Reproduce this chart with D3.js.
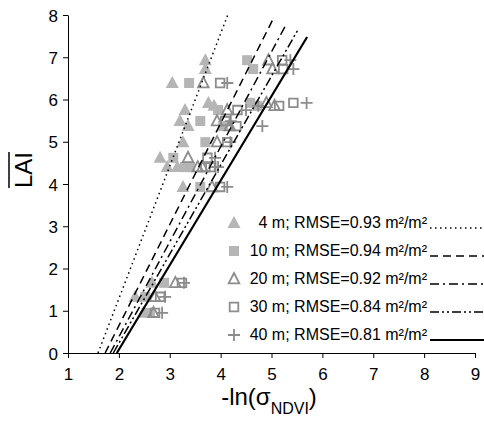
<!DOCTYPE html>
<html>
<head>
<meta charset="utf-8">
<script src="https://cdn.jsdelivr.net/npm/d3@7/dist/d3.min.js"></script>
<style>
    body { margin: 0; background: #fff; }
    #chart { width: 484px; height: 422px; }
    text { font-family: "Liberation Sans", Arial, sans-serif; }
</style>
</head>
<body>
<div id="chart"></div>
<script>

// mean LAI of each plot (y values)
const laiValues = [6.93, 6.72, 6.39, 5.92, 5.85, 5.75, 5.49, 5.37, 4.99, 4.62, 4.40, 4.40, 3.93, 1.66, 1.33, 0.95];

// -ln(sigma NDVI) per plot, one array per window size
const ndvi4m  = [3.70, 3.70, 3.05, 3.76, 3.87, 3.30, 3.20, 3.36, 3.26, 2.81, 2.95, 3.15, 3.26, 2.65, 2.32, 2.48];
const ndvi10m = [4.52, 4.64, 3.38, 4.58, 4.72, 3.95, 3.60, 4.05, 3.70, 3.07, 3.40, 3.30, 3.60, 2.89, 2.52, 2.61];
const ndvi20m = [4.94, 5.02, 3.66, 4.90, 5.06, 4.13, 3.93, 4.18, 3.93, 3.36, 3.64, 3.55, 3.83, 3.11, 2.71, 2.68];
const ndvi30m = [5.21, 5.23, 3.99, 5.43, 5.15, 4.33, 4.09, 4.31, 4.13, 3.74, 3.80, 3.70, 3.99, 3.24, 2.81, 2.71];
const ndvi40m = [5.37, 5.43, 4.13, 5.69, 4.74, 4.50, 4.20, 4.82, 4.19, 3.89, 3.95, 3.90, 4.13, 3.28, 2.91, 2.85];

const windowSizes = ["4 m", "10 m", "20 m", "30 m", "40 m"];
const rmseValues = [0.93, 0.94, 0.92, 0.84, 0.81];

// fitted lines: start on LAI=0, end at (fitX1, fitY1)
const fitX0 = [1.59, 1.73, 1.83, 1.89, 1.96];
const fitX1 = [4.14, 5.05, 5.28, 5.52, 5.70];
const fitY1 = [8.00, 7.95, 7.76, 7.65, 7.48];

const xTicks = [1, 2, 3, 4, 5, 6, 7, 8, 9];
const yTicks = [0, 1, 2, 3, 4, 5, 6, 7, 8];


class LaiScatter {

    constructor(parentElement) {
        this.parentElement = parentElement;
        this.displayData = [];

        this.initVis();
    }

    initVis() {
        let vis = this;

        vis.width = 484;
        vis.height = 422;

        vis.svg = d3.select("#" + vis.parentElement).append("svg")
            .attr("width", vis.width)
            .attr("height", vis.height);

        vis.x = d3.scaleLinear().domain([1, 9]).range([68, 475]);
        vis.y = d3.scaleLinear().domain([0, 8]).range([353, 15]);

        // marker + line style per window size
        vis.styles = [
            {path: "M0,-7L6.5,5L-6.5,5Z", fill: "#b5b5b5", stroke: "none", dash: "1.5,3.5", lw: 1.5},
            {path: "M-5,-5h10v10h-10Z", fill: "#b5b5b5", stroke: "none", dash: "8,5", lw: 1.5},
            {path: "M0,-6L5.3,4.3L-5.3,4.3Z", fill: "none", stroke: "#8c8c8c", dash: "9,4,2,4", lw: 1.5},
            {path: "M-4.3,-4.3h8.6v8.6h-8.6Z", fill: "none", stroke: "#8c8c8c", dash: "9,3,2,3,2,3", lw: 1.5},
            {path: "M-6,0H6M0,-6V6", fill: "none", stroke: "#8c8c8c", dash: null, lw: 2.2}
        ];

        vis.wrangleData();
    }

    wrangleData() {
        let vis = this;

        let series = [ndvi4m, ndvi10m, ndvi20m, ndvi30m, ndvi40m];

        vis.displayData = windowSizes.map(function (name, i) {
            return {
                name: name,
                rmse: rmseValues[i],
                style: vis.styles[i],
                points: laiValues.map((lai, j) => ({x: series[i][j], y: lai})),
                fit: [{x: fitX0[i], y: 0}, {x: fitX1[i], y: fitY1[i]}]
            };
        });

        vis.updateVis();
    }

    updateVis() {
        let vis = this;

        // axes
        let xAxis = vis.svg.append("g")
            .attr("transform", "translate(0," + vis.y(0) + ")")
            .call(d3.axisBottom(vis.x).tickValues(xTicks).tickFormat(d3.format("d"))
                .tickSizeInner(5).tickSizeOuter(0).tickPadding(10));

        let yAxis = vis.svg.append("g")
            .attr("transform", "translate(" + vis.x(1) + ",0)")
            .call(d3.axisLeft(vis.y).tickValues(yTicks).tickFormat(d3.format("d"))
                .tickSizeInner(5).tickSizeOuter(0).tickPadding(5));

        [xAxis, yAxis].forEach(function (g) {
            g.attr("font-family", null).attr("font-size", null);
            g.selectAll("text").style("font-size", "17px").attr("fill", "#000");
            g.selectAll("line, path").attr("stroke", "#000");
        });
        yAxis.selectAll("text").attr("dy", "0.36em");

        // points
        vis.displayData.forEach(function (s) {
            vis.svg.append("g")
                .selectAll("path")
                .data(s.points)
                .enter()
                .append("path")
                .attr("transform", d => "translate(" + vis.x(d.x) + "," + vis.y(d.y) + ")")
                .attr("d", s.style.path)
                .attr("fill", s.style.fill)
                .attr("stroke", s.style.stroke)
                .attr("stroke-width", 1.8);
        });

        // fitted lines
        let line = d3.line().x(d => vis.x(d.x)).y(d => vis.y(d.y));

        vis.svg.selectAll(".fitLine")
            .data(vis.displayData)
            .enter()
            .append("path")
            .attr("class", "fitLine")
            .attr("d", d => line(d.fit))
            .attr("fill", "none")
            .attr("stroke", "#000")
            .attr("stroke-width", d => d.style.lw)
            .attr("stroke-dasharray", d => d.style.dash);

        // legend
        let legend = vis.svg.selectAll(".legendRow")
            .data(vis.displayData)
            .enter()
            .append("g")
            .attr("class", "legendRow")
            .attr("transform", (d, i) => "translate(0," + (228 + i * 28) + ")");

        legend.append("rect")
            .attr("x", 222).attr("y", -14)
            .attr("width", 262).attr("height", 19)
            .attr("fill", "#fff");

        legend.append("path")
            .attr("transform", "translate(234,-5)")
            .attr("d", d => d.style.path)
            .attr("fill", d => d.style.fill)
            .attr("stroke", d => d.style.stroke)
            .attr("stroke-width", 1.8);

        legend.append("text")
            .attr("x", 427)
            .attr("text-anchor", "end")
            .style("font-size", "16px")
            .text(d => d.name + "; RMSE=" + d.rmse.toFixed(2) + " m²/m²");

        legend.append("line")
            .attr("x1", 430).attr("x2", 484)
            .attr("y1", 0).attr("y2", 0)
            .attr("stroke", "#000")
            .attr("stroke-width", d => d.style.lw)
            .attr("stroke-dasharray", d => d.style.dash);

        // axis titles
        let xTitle = vis.svg.append("text")
            .attr("x", 269)
            .attr("y", 405)
            .attr("text-anchor", "middle")
            .style("font-size", "24px");
        xTitle.append("tspan").text("-ln(σ");
        xTitle.append("tspan").attr("dy", 9).style("font-size", "16px").text("NDVI");
        xTitle.append("tspan").attr("dy", -9).text(")");

        let yTitle = vis.svg.append("text")
            .attr("transform", "translate(32,170) rotate(-90)")
            .attr("text-anchor", "middle")
            .style("font-size", "24px")
            .text("LAI");

        // overline over LAI
        let bb = yTitle.node().getBBox();
        vis.svg.append("line")
            .attr("x1", 9).attr("x2", 9)
            .attr("y1", 170 - bb.width / 2).attr("y2", 170 + bb.width / 2)
            .attr("stroke", "#000")
            .attr("stroke-width", 1.5);
    }
}

new LaiScatter("chart");

</script>
</body>
</html>
